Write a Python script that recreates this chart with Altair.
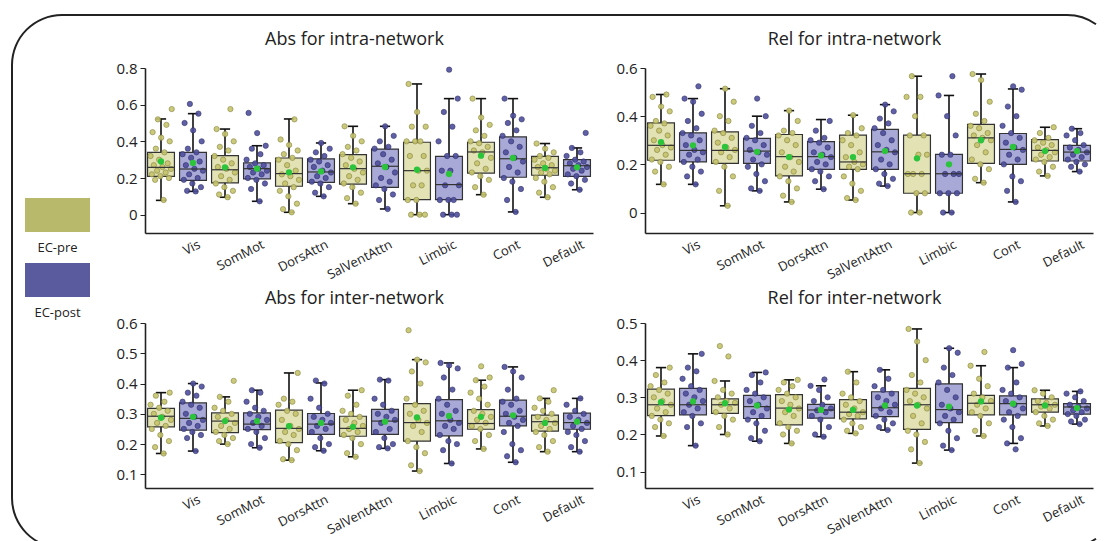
import math
import altair as alt
import pandas as pd

CATEGORIES = ["Vis", "SomMot", "DorsAttn", "SalVentAttn", "Limbic", "Cont", "Default"]
GROUPS = ["EC-pre", "EC-post"]

# box statistics per network: (min, q1, median, q3, max, mean)
ABS_INTRA_PRE_STATS = [(0.078, 0.209, 0.258, 0.340, 0.522, 0.290), (0.095, 0.173, 0.245, 0.322, 0.467, 0.258),
                       (0.013, 0.155, 0.224, 0.309, 0.522, 0.231), (0.060, 0.167, 0.251, 0.327, 0.482, 0.258),
                       (0.000, 0.082, 0.240, 0.395, 0.713, 0.245), (0.109, 0.227, 0.342, 0.395, 0.633, 0.322),
                       (0.095, 0.215, 0.256, 0.318, 0.388, 0.255)]
ABS_INTRA_POST_STATS = [(0.127, 0.187, 0.249, 0.340, 0.551, 0.282), (0.073, 0.195, 0.251, 0.282, 0.376, 0.251),
                        (0.100, 0.176, 0.233, 0.304, 0.391, 0.236), (0.031, 0.149, 0.264, 0.358, 0.482, 0.260),
                        (0.000, 0.082, 0.164, 0.318, 0.633, 0.222), (0.015, 0.204, 0.305, 0.424, 0.633, 0.309),
                        (0.136, 0.209, 0.267, 0.300, 0.364, 0.258)]
REL_INTRA_PRE_STATS = [(0.117, 0.217, 0.279, 0.372, 0.490, 0.292), (0.028, 0.204, 0.258, 0.335, 0.514, 0.272),
                       (0.044, 0.152, 0.232, 0.324, 0.423, 0.230), (0.052, 0.179, 0.210, 0.321, 0.404, 0.230),
                       (0.000, 0.080, 0.161, 0.321, 0.566, 0.225), (0.124, 0.204, 0.310, 0.366, 0.575, 0.300),
                       (0.152, 0.214, 0.258, 0.303, 0.354, 0.255)]
REL_INTRA_POST_STATS = [(0.117, 0.210, 0.258, 0.331, 0.473, 0.279), (0.090, 0.204, 0.255, 0.308, 0.400, 0.252),
                        (0.097, 0.179, 0.232, 0.294, 0.386, 0.237), (0.110, 0.179, 0.252, 0.345, 0.448, 0.255),
                        (0.000, 0.080, 0.161, 0.241, 0.486, 0.200), (0.044, 0.200, 0.262, 0.328, 0.513, 0.272),
                        (0.170, 0.214, 0.251, 0.279, 0.348, 0.255)]
ABS_INTER_PRE_STATS = [(0.169, 0.257, 0.292, 0.318, 0.370, 0.287), (0.200, 0.238, 0.276, 0.303, 0.356, 0.276),
                       (0.147, 0.205, 0.252, 0.312, 0.435, 0.259), (0.158, 0.226, 0.252, 0.292, 0.378, 0.257),
                       (0.111, 0.210, 0.271, 0.334, 0.479, 0.288), (0.184, 0.249, 0.268, 0.314, 0.411, 0.290),
                       (0.175, 0.243, 0.274, 0.296, 0.351, 0.270)]
ABS_INTER_POST_STATS = [(0.177, 0.246, 0.285, 0.336, 0.400, 0.290), (0.188, 0.248, 0.266, 0.303, 0.378, 0.276),
                        (0.178, 0.232, 0.266, 0.301, 0.402, 0.270), (0.186, 0.232, 0.276, 0.315, 0.413, 0.274),
                        (0.136, 0.227, 0.277, 0.347, 0.468, 0.293), (0.140, 0.260, 0.292, 0.345, 0.455, 0.295),
                        (0.175, 0.249, 0.271, 0.302, 0.351, 0.274)]
REL_INTER_PRE_STATS = [(0.196, 0.251, 0.280, 0.322, 0.380, 0.287), (0.200, 0.257, 0.280, 0.296, 0.344, 0.284),
                       (0.176, 0.226, 0.271, 0.307, 0.347, 0.267), (0.203, 0.242, 0.260, 0.294, 0.369, 0.266),
                       (0.123, 0.214, 0.280, 0.324, 0.484, 0.278), (0.196, 0.253, 0.284, 0.305, 0.385, 0.289),
                       (0.223, 0.260, 0.280, 0.296, 0.319, 0.278)]
REL_INTER_POST_STATS = [(0.170, 0.253, 0.280, 0.324, 0.417, 0.289), (0.182, 0.243, 0.275, 0.305, 0.367, 0.278),
                        (0.194, 0.244, 0.266, 0.281, 0.331, 0.266), (0.212, 0.248, 0.272, 0.315, 0.374, 0.278),
                        (0.158, 0.232, 0.267, 0.336, 0.432, 0.275), (0.176, 0.253, 0.283, 0.304, 0.380, 0.283),
                        (0.228, 0.255, 0.274, 0.283, 0.316, 0.271)]

# individual subject values per network
ABS_INTRA_PRE_PTS = [
    [0.08, 0.19, 0.2, 0.21, 0.22, 0.23, 0.24, 0.25, 0.26, 0.27, 0.28, 0.3, 0.32, 0.34, 0.36, 0.4, 0.42, 0.45, 0.49, 0.52, 0.576],
    [0.095, 0.11, 0.13, 0.15, 0.17, 0.19, 0.21, 0.23, 0.25, 0.26, 0.28, 0.3, 0.32, 0.35, 0.37, 0.4, 0.44, 0.467, 0.576],
    [0.013, 0.03, 0.06, 0.1, 0.13, 0.15, 0.17, 0.19, 0.21, 0.22, 0.24, 0.27, 0.3, 0.31, 0.33, 0.35, 0.38, 0.41, 0.52],
    [0.06, 0.09, 0.12, 0.15, 0.17, 0.19, 0.21, 0.23, 0.25, 0.27, 0.29, 0.31, 0.33, 0.35, 0.37, 0.4, 0.43, 0.482],
    [0.0, 0.0, 0.0, 0.08, 0.08, 0.16, 0.16, 0.24, 0.24, 0.32, 0.32, 0.4, 0.4, 0.4, 0.48, 0.48, 0.56, 0.713],
    [0.109, 0.15, 0.19, 0.21, 0.23, 0.25, 0.28, 0.31, 0.34, 0.35, 0.37, 0.39, 0.4, 0.43, 0.46, 0.49, 0.53, 0.633],
    [0.095, 0.12, 0.15, 0.18, 0.2, 0.22, 0.23, 0.24, 0.25, 0.26, 0.27, 0.28, 0.3, 0.31, 0.32, 0.34, 0.36, 0.388],
]
ABS_INTRA_POST_PTS = [
    [0.127, 0.13, 0.15, 0.17, 0.19, 0.2, 0.22, 0.24, 0.25, 0.27, 0.29, 0.31, 0.33, 0.34, 0.36, 0.4, 0.46, 0.5, 0.551, 0.604],
    [0.073, 0.14, 0.17, 0.19, 0.2, 0.22, 0.23, 0.24, 0.25, 0.26, 0.27, 0.28, 0.3, 0.33, 0.36, 0.376, 0.445, 0.555],
    [0.1, 0.12, 0.15, 0.17, 0.18, 0.2, 0.21, 0.23, 0.24, 0.26, 0.27, 0.29, 0.3, 0.32, 0.34, 0.36, 0.391],
    [0.031, 0.08, 0.11, 0.14, 0.16, 0.18, 0.2, 0.23, 0.26, 0.28, 0.3, 0.33, 0.36, 0.37, 0.4, 0.43, 0.482],
    [0.0, 0.0, 0.0, 0.08, 0.08, 0.08, 0.16, 0.16, 0.24, 0.24, 0.32, 0.32, 0.4, 0.48, 0.56, 0.633, 0.791],
    [0.015, 0.08, 0.14, 0.18, 0.2, 0.23, 0.26, 0.29, 0.31, 0.34, 0.37, 0.4, 0.43, 0.46, 0.5, 0.52, 0.54, 0.633],
    [0.136, 0.17, 0.19, 0.21, 0.22, 0.24, 0.25, 0.26, 0.27, 0.28, 0.29, 0.3, 0.32, 0.34, 0.364, 0.446],
]
REL_INTRA_PRE_PTS = [
    [0.117, 0.17, 0.19, 0.21, 0.22, 0.24, 0.26, 0.27, 0.28, 0.3, 0.32, 0.34, 0.36, 0.37, 0.38, 0.42, 0.44, 0.48, 0.49],
    [0.028, 0.09, 0.15, 0.19, 0.21, 0.23, 0.25, 0.26, 0.27, 0.29, 0.31, 0.33, 0.34, 0.38, 0.4, 0.46, 0.514],
    [0.044, 0.07, 0.1, 0.13, 0.15, 0.17, 0.19, 0.21, 0.23, 0.25, 0.28, 0.3, 0.32, 0.33, 0.34, 0.38, 0.423],
    [0.052, 0.06, 0.09, 0.12, 0.15, 0.18, 0.19, 0.2, 0.21, 0.23, 0.25, 0.28, 0.3, 0.32, 0.33, 0.35, 0.404],
    [0.0, 0.0, 0.08, 0.08, 0.16, 0.16, 0.16, 0.24, 0.24, 0.32, 0.32, 0.4, 0.48, 0.48, 0.566],
    [0.124, 0.14, 0.18, 0.2, 0.22, 0.25, 0.28, 0.3, 0.31, 0.32, 0.33, 0.35, 0.36, 0.38, 0.41, 0.46, 0.55, 0.575],
    [0.152, 0.17, 0.19, 0.21, 0.22, 0.23, 0.24, 0.25, 0.26, 0.27, 0.28, 0.29, 0.3, 0.31, 0.33, 0.354],
]
REL_INTRA_POST_PTS = [
    [0.117, 0.15, 0.17, 0.19, 0.21, 0.22, 0.24, 0.25, 0.26, 0.28, 0.3, 0.32, 0.33, 0.35, 0.38, 0.41, 0.46, 0.473, 0.524],
    [0.09, 0.1, 0.13, 0.16, 0.19, 0.2, 0.22, 0.24, 0.25, 0.26, 0.28, 0.3, 0.31, 0.33, 0.36, 0.4, 0.473],
    [0.097, 0.13, 0.15, 0.17, 0.18, 0.2, 0.21, 0.23, 0.24, 0.25, 0.27, 0.29, 0.3, 0.31, 0.34, 0.38],
    [0.11, 0.12, 0.14, 0.16, 0.18, 0.2, 0.22, 0.25, 0.26, 0.28, 0.3, 0.33, 0.35, 0.37, 0.39, 0.42, 0.448],
    [0.0, 0.0, 0.08, 0.08, 0.08, 0.16, 0.16, 0.16, 0.24, 0.24, 0.32, 0.4, 0.486, 0.566],
    [0.044, 0.09, 0.13, 0.15, 0.2, 0.22, 0.24, 0.26, 0.27, 0.29, 0.31, 0.33, 0.36, 0.4, 0.44, 0.51, 0.524],
    [0.17, 0.19, 0.2, 0.21, 0.22, 0.23, 0.24, 0.25, 0.26, 0.27, 0.28, 0.3, 0.32, 0.33, 0.348],
]
ABS_INTER_PRE_PTS = [
    [0.169, 0.19, 0.21, 0.23, 0.25, 0.26, 0.27, 0.28, 0.29, 0.3, 0.31, 0.32, 0.33, 0.34, 0.36, 0.37],
    [0.2, 0.21, 0.22, 0.23, 0.24, 0.25, 0.26, 0.27, 0.28, 0.29, 0.3, 0.31, 0.32, 0.34, 0.356, 0.409],
    [0.147, 0.15, 0.18, 0.2, 0.21, 0.23, 0.24, 0.25, 0.26, 0.28, 0.3, 0.31, 0.33, 0.34, 0.35, 0.435],
    [0.158, 0.17, 0.2, 0.22, 0.23, 0.24, 0.25, 0.26, 0.27, 0.28, 0.29, 0.3, 0.31, 0.33, 0.36, 0.378],
    [0.111, 0.13, 0.17, 0.19, 0.21, 0.24, 0.26, 0.27, 0.28, 0.3, 0.31, 0.33, 0.35, 0.4, 0.44, 0.47, 0.479, 0.576],
    [0.184, 0.21, 0.23, 0.25, 0.26, 0.27, 0.28, 0.29, 0.3, 0.31, 0.33, 0.35, 0.37, 0.39, 0.411, 0.42, 0.457],
    [0.175, 0.19, 0.21, 0.23, 0.24, 0.25, 0.26, 0.27, 0.28, 0.29, 0.3, 0.31, 0.32, 0.34, 0.351, 0.378],
]
ABS_INTER_POST_PTS = [
    [0.177, 0.22, 0.23, 0.24, 0.25, 0.26, 0.27, 0.28, 0.29, 0.3, 0.32, 0.33, 0.34, 0.36, 0.37, 0.39, 0.4],
    [0.188, 0.2, 0.22, 0.24, 0.25, 0.26, 0.27, 0.28, 0.29, 0.3, 0.31, 0.32, 0.34, 0.37, 0.378],
    [0.178, 0.19, 0.2, 0.22, 0.24, 0.25, 0.26, 0.27, 0.28, 0.29, 0.3, 0.32, 0.35, 0.4, 0.41],
    [0.186, 0.19, 0.2, 0.22, 0.24, 0.25, 0.27, 0.28, 0.29, 0.3, 0.31, 0.33, 0.35, 0.41, 0.413],
    [0.136, 0.18, 0.2, 0.21, 0.23, 0.25, 0.26, 0.27, 0.28, 0.3, 0.31, 0.33, 0.35, 0.38, 0.42, 0.45, 0.46, 0.468],
    [0.14, 0.16, 0.18, 0.2, 0.24, 0.26, 0.27, 0.28, 0.29, 0.3, 0.31, 0.33, 0.34, 0.35, 0.38, 0.42, 0.44, 0.455],
    [0.175, 0.19, 0.21, 0.23, 0.24, 0.25, 0.26, 0.27, 0.28, 0.29, 0.3, 0.31, 0.33, 0.351],
]
REL_INTER_PRE_PTS = [
    [0.196, 0.22, 0.23, 0.24, 0.25, 0.26, 0.27, 0.28, 0.29, 0.3, 0.31, 0.32, 0.33, 0.34, 0.36, 0.38],
    [0.2, 0.22, 0.24, 0.25, 0.26, 0.27, 0.28, 0.285, 0.29, 0.3, 0.31, 0.32, 0.344, 0.41, 0.438],
    [0.176, 0.2, 0.21, 0.22, 0.23, 0.25, 0.26, 0.27, 0.28, 0.29, 0.3, 0.31, 0.32, 0.33, 0.34, 0.347],
    [0.203, 0.21, 0.22, 0.23, 0.24, 0.25, 0.255, 0.26, 0.27, 0.28, 0.29, 0.3, 0.31, 0.34, 0.369],
    [0.123, 0.16, 0.18, 0.2, 0.21, 0.23, 0.25, 0.27, 0.28, 0.29, 0.3, 0.31, 0.32, 0.34, 0.36, 0.4, 0.45, 0.484],
    [0.196, 0.21, 0.23, 0.25, 0.26, 0.27, 0.28, 0.29, 0.3, 0.31, 0.33, 0.35, 0.385, 0.422],
    [0.223, 0.23, 0.24, 0.25, 0.26, 0.27, 0.275, 0.28, 0.285, 0.29, 0.3, 0.31, 0.319],
]
REL_INTER_POST_PTS = [
    [0.17, 0.22, 0.23, 0.25, 0.26, 0.27, 0.28, 0.29, 0.3, 0.31, 0.32, 0.33, 0.35, 0.37, 0.38, 0.417],
    [0.182, 0.19, 0.21, 0.23, 0.24, 0.25, 0.26, 0.27, 0.28, 0.29, 0.3, 0.31, 0.32, 0.34, 0.36, 0.367],
    [0.194, 0.2, 0.22, 0.24, 0.25, 0.26, 0.265, 0.27, 0.28, 0.29, 0.3, 0.32, 0.331, 0.348],
    [0.212, 0.22, 0.23, 0.24, 0.25, 0.26, 0.27, 0.28, 0.29, 0.3, 0.31, 0.32, 0.33, 0.35, 0.374],
    [0.158, 0.17, 0.19, 0.21, 0.23, 0.24, 0.25, 0.26, 0.27, 0.28, 0.3, 0.32, 0.34, 0.36, 0.38, 0.42, 0.432],
    [0.16, 0.176, 0.19, 0.22, 0.24, 0.25, 0.26, 0.27, 0.28, 0.29, 0.3, 0.31, 0.32, 0.34, 0.38, 0.39, 0.427],
    [0.228, 0.235, 0.24, 0.25, 0.255, 0.26, 0.265, 0.27, 0.275, 0.28, 0.29, 0.3, 0.31, 0.316],
]

FONT = "Open Sans"
LEG_COLORS = ["#b9b96b", "#5a5a9f"]
BOX_FILL = ["#e2e2b5", "#a9a9d8"]
PT_FILL = ["#c6c46c", "#4f4f9d"]
PT_STROKE = ["#85843c", "#2c2c6a"]
MEAN_COLOR = "#2bc43a"
FRAME_COLOR = "#222"
PANEL_W, PANEL_H = 448, 165


def build_tables(stats_pre, stats_post, pts_pre, pts_post):
    srows, prows = [], []
    for g, (stats, pts) in enumerate([(stats_pre, pts_pre), (stats_post, pts_post)]):
        for c, cat in enumerate(CATEGORIES):
            lo, q1, med, q3, hi, mean = stats[c]
            srows.append(dict(cat=cat, ci=c, grp=GROUPS[g], gi=g, lo=lo, q1=q1,
                              med=med, q3=q3, hi=hi, mean=mean))
            for v in pts[c]:
                prows.append(dict(cat=cat, ci=c, grp=GROUPS[g], gi=g, val=v))
    return pd.DataFrame(srows), pd.DataFrame(prows)


LABEL_EXPR = "[" + ",".join("'%s'" % c for c in CATEGORIES) + "][round((datum.value - 1.1) / 2)]"


def pick(colors):
    return "datum.gi == 0 ? '%s' : '%s'" % (colors[0], colors[1])


def panel(title, stats_pre, stats_post, pts_pre, pts_post, ydom, yticks, title_offset):
    sdf, pdf = build_tables(stats_pre, stats_post, pts_pre, pts_post)
    xs = alt.Scale(domain=[-0.5, 2 * len(CATEGORIES) - 0.5], nice=False, zero=False)
    ys = alt.Scale(domain=ydom, nice=False, zero=False)
    xaxis = alt.Axis(values=[2 * i + 1.1 for i in range(len(CATEGORIES))], labelExpr=LABEL_EXPR,
                     ticks=False, labelAngle=-27, labelAlign="right", labelBaseline="top",
                     labelPadding=5, labelFontSize=13, labelColor="#222", labelFont=FONT,
                     grid=False, title=None, domainColor="#222", domainWidth=1.6, labelOverlap=False)
    yaxis = alt.Axis(values=yticks, format=".1~f", tickSize=5, tickColor="#222", tickWidth=1,
                     labelPadding=3, labelFontSize=15, labelColor="#222", labelFont=FONT,
                     grid=False, title=None, domainColor="#222", domainWidth=1.6)

    def X(f):
        return alt.X(f, scale=xs, axis=xaxis)

    def Y(f):
        return alt.Y(f, scale=ys, axis=yaxis)

    base = alt.Chart(sdf).transform_calculate(
        pos="2*datum.ci+datum.gi",
        xl="2*datum.ci+datum.gi-0.42",
        xr="2*datum.ci+datum.gi+0.42",
        cl="2*datum.ci+datum.gi-0.16",
        cr="2*datum.ci+datum.gi+0.16",
        bfill=pick(BOX_FILL),
    )
    whisk = base.mark_rule(color="#111", strokeWidth=1.6).encode(x=X("pos:Q"), y=Y("lo:Q"), y2="hi:Q")
    cap_lo = base.mark_rule(color="#111", strokeWidth=1.6).encode(x=X("cl:Q"), x2="cr:Q", y=Y("lo:Q"))
    cap_hi = base.mark_rule(color="#111", strokeWidth=1.6).encode(x=X("cl:Q"), x2="cr:Q", y=Y("hi:Q"))
    box = base.mark_rect(stroke="#333", strokeWidth=1.2).encode(
        x=X("xl:Q"), x2="xr:Q", y=Y("q1:Q"), y2="q3:Q", fill=alt.Fill("bfill:N", scale=None))
    pts = alt.Chart(pdf).transform_window(
        rn="row_number()", groupby=["ci", "gi"]
    ).transform_calculate(
        xp="2*datum.ci+datum.gi+((datum.rn*0.618034)%1-0.5)*0.7",
        pfill=pick(PT_FILL),
        pstroke=pick(PT_STROKE),
    ).mark_circle(size=28, opacity=0.9, strokeWidth=0.7).encode(
        x=X("xp:Q"), y=Y("val:Q"),
        fill=alt.Fill("pfill:N", scale=None), stroke=alt.Stroke("pstroke:N", scale=None))
    med = base.mark_rule(color="#333", strokeWidth=1.2).encode(x=X("xl:Q"), x2="xr:Q", y=Y("med:Q"))
    mean = base.mark_circle(color=MEAN_COLOR, size=40, opacity=1).encode(x=X("pos:Q"), y=Y("mean:Q"))
    return alt.layer(whisk, cap_lo, cap_hi, box, pts, med, mean).properties(
        width=PANEL_W, height=PANEL_H,
        title=alt.TitleParams(title, fontSize=18, offset=title_offset, font=FONT, fontWeight="normal",
                              color="#222", frame="bounds"))


p1 = panel("Abs for intra-network", ABS_INTRA_PRE_STATS, ABS_INTRA_POST_STATS,
           ABS_INTRA_PRE_PTS, ABS_INTRA_POST_PTS, [-0.1, 0.8], [0, 0.2, 0.4, 0.6, 0.8], 12)
p2 = panel("Rel for intra-network", REL_INTRA_PRE_STATS, REL_INTRA_POST_STATS,
           REL_INTRA_PRE_PTS, REL_INTRA_POST_PTS, [-0.085, 0.6], [0, 0.2, 0.4, 0.6], 12)
p3 = panel("Abs for inter-network", ABS_INTER_PRE_STATS, ABS_INTER_POST_STATS,
           ABS_INTER_PRE_PTS, ABS_INTER_POST_PTS, [0.055, 0.6], [0.1, 0.2, 0.3, 0.4, 0.5, 0.6], 8)
p4 = panel("Rel for inter-network", REL_INTER_PRE_STATS, REL_INTER_POST_STATS,
           REL_INTER_PRE_PTS, REL_INTER_POST_PTS, [0.056, 0.5], [0.1, 0.2, 0.3, 0.4, 0.5], 8)

# ---- rounded frame around the whole figure (drawn from the legend cell, whose view is at 0,0) ----
FR_L, FR_T, FR_B, FR_R = -8, -53, 480, 50      # left, top, bottom edges and corner radius
FR_CR = 1047                                   # centre x of the right-hand corners (edge lies off-picture)
FR_XMAX = 1076                                 # right-most point that may be drawn
_cut = math.asin((FR_XMAX - FR_CR) / FR_R)
one = pd.DataFrame({"f": [0]})


def frame_rule(**enc):
    return alt.Chart(one).mark_rule(color=FRAME_COLOR, strokeWidth=2).encode(
        **{k: alt.value(v) for k, v in enc.items()})


def frame_arc(cx, cy, a0, a1):
    return alt.Chart(one).mark_arc(
        theta=a0, theta2=a1, radius=FR_R + 1, radius2=FR_R - 1, color=FRAME_COLOR
    ).encode(x=alt.value(cx), y=alt.value(cy))


frame_parts = [
    frame_rule(x=FR_L + FR_R, x2=FR_CR, y=FR_T),                       # top edge
    frame_rule(x=FR_L, y=FR_T + FR_R, y2=FR_B - FR_R),                 # left edge
    frame_arc(FR_L + FR_R, FR_T + FR_R, 1.5 * math.pi, 2 * math.pi),   # top-left corner
    frame_arc(FR_L + FR_R, FR_B - FR_R, math.pi, 1.5 * math.pi),       # bottom-left corner
    frame_arc(FR_CR, FR_T + FR_R, 0.0, _cut),                          # top-right corner (partly)
    frame_arc(FR_CR, FR_B - FR_R, math.pi - _cut, math.pi),            # bottom-right corner (partly)
]

# ---- legend ----
leg_df = pd.DataFrame({"grp": GROUPS})
leg_y = alt.Y("grp:N", scale=alt.Scale(domain=GROUPS, range=[114.5, 244.5], paddingInner=0, paddingOuter=0),
              axis=None)
leg_bars = alt.Chart(leg_df).mark_bar(size=34, orient="horizontal").encode(
    y=leg_y, x=alt.value(5), x2=alt.value(70),
    color=alt.Color("grp:N", scale=alt.Scale(domain=GROUPS, range=LEG_COLORS), legend=None))
leg_text = alt.Chart(leg_df).mark_text(dy=33, fontSize=13, font=FONT, color="#222").encode(
    y=leg_y, x=alt.value(37.5), text="grp:N")
legend = alt.layer(*frame_parts, leg_bars, leg_text).properties(width=73, height=PANEL_H)

blank = alt.Chart(one).mark_point(opacity=0).encode(
    x=alt.value(0), y=alt.value(0)).properties(width=73, height=PANEL_H)

chart = alt.concat(
    legend, p1, p2, blank, p3, p4,
    columns=3, spacing=alt.RowColnumber(row=90, column=52), bounds="flush", align="each"
).properties(
    padding={"left": 3, "top": 6, "right": 0, "bottom": 0}
).configure(
    font=FONT, view=alt.ViewConfig(stroke="transparent", strokeWidth=0)
)

chart.save("out.html", embed_options={"renderer": "svg", "actions": False})
